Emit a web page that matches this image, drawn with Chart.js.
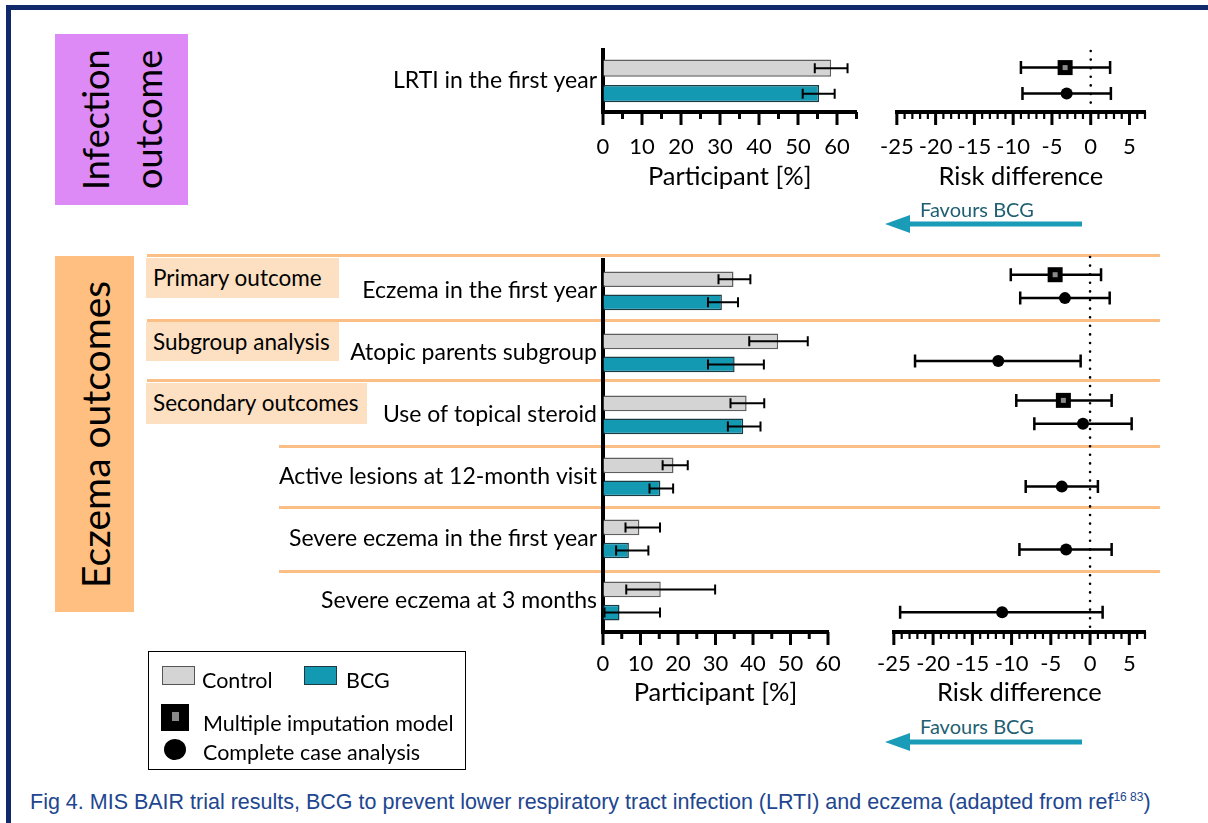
<!DOCTYPE html>
<html>
<head>
<meta charset="utf-8">
<title>MIS BAIR trial results</title>
<script src="https://cdn.jsdelivr.net/npm/chart.js@4.4.1/dist/chart.umd.min.js"></script>
<style>
  body { margin: 0; background: #fff; }
  #page { position: relative; width: 1208px; height: 823px; overflow: hidden; font-family: Lato, sans-serif; color: #000; }
  .abs { position: absolute; }
  canvas { position: absolute; }
  .frame { left: 6px; top: 5px; width: 1400px; height: 1000px; border-top: 5px solid #10296a; border-left: 5px solid #10296a; }
  .group-box { display: flex; align-items: center; justify-content: center; writing-mode: vertical-rl; transform: rotate(180deg); text-align: center; }
  .tag { background: #fde0c2; font-size: 22.5px; line-height: 40px; padding-left: 7px; box-sizing: border-box; white-space: nowrap; }
  .sep { height: 3px; background: #fbbf86; }
  .favours { font-size: 20px; color: #1f5f72; white-space: nowrap; }
  .legend { left: 148px; top: 651px; width: 318px; height: 119px; border: 1.5px solid #000; box-sizing: border-box; font-size: 21.5px; }
  .legend span { position: absolute; white-space: nowrap; line-height: 24px; }
  .sw { position: absolute; box-sizing: border-box; }
  .caption { left: 30px; top: 790px; font-family: "Liberation Sans", Arial, sans-serif; font-size: 21.5px; line-height: 24px; color: #21468f; white-space: nowrap; }
  .caption sup { font-size: 12px; vertical-align: 8px; line-height: 0; }
</style>
</head>
<body>
<div id="page">
  <div class="abs frame"></div>

  <div class="abs group-box" style="left:55px;top:34px;width:133px;height:171px;background:#dd89f6;font-size:36px;line-height:53px;">Infection<br>outcome</div>
  <div class="abs group-box" style="left:55px;top:256px;width:79px;height:356px;background:#ffbf80;font-size:39px;line-height:40px;">Eczema outcomes</div>

  <div class="abs sep" style="left:147px;top:254px;width:1013px;"></div>
  <div class="abs sep" style="left:147px;top:319px;width:1013px;"></div>
  <div class="abs sep" style="left:147px;top:379px;width:1013px;"></div>
  <div class="abs sep" style="left:279px;top:445px;width:881px;"></div>
  <div class="abs sep" style="left:279px;top:506px;width:881px;"></div>
  <div class="abs sep" style="left:279px;top:570px;width:881px;"></div>

  <div class="abs tag" style="left:146px;top:258px;width:193px;height:40px;">Primary outcome</div>
  <div class="abs tag" style="left:146px;top:322px;width:193px;height:39px;">Subgroup analysis</div>
  <div class="abs tag" style="left:146px;top:383px;width:221px;height:41px;">Secondary outcomes</div>

  <canvas id="topBar" width="600" height="175" style="left:260px;top:30px;"></canvas>
  <canvas id="topForest" width="300" height="175" style="left:870px;top:30px;"></canvas>
  <canvas id="ecBar" width="600" height="470" style="left:260px;top:240px;"></canvas>
  <canvas id="ecForest" width="300" height="470" style="left:870px;top:240px;"></canvas>

  <div class="abs favours" style="left:920px;top:197px;">Favours BCG</div>
  <svg class="abs" style="left:880px;top:212px;" width="210" height="26">
    <polygon points="5,12 30,3 30,21" fill="#1a9bb8"/>
    <rect x="29" y="9.5" width="173" height="5" fill="#1a9bb8"/>
  </svg>
  <div class="abs favours" style="left:920px;top:714px;">Favours BCG</div>
  <svg class="abs" style="left:880px;top:730px;" width="210" height="26">
    <polygon points="5,12 30,3 30,21" fill="#1a9bb8"/>
    <rect x="29" y="9.5" width="173" height="5" fill="#1a9bb8"/>
  </svg>

  <div class="abs legend">
    <div class="sw" style="left:13px;top:14px;width:33px;height:19px;background:#d4d4d4;border:1.5px solid #555;"></div>
    <span style="left:53px;top:16px;">Control</span>
    <div class="sw" style="left:155px;top:14px;width:33px;height:19px;background:#1499b3;border:1.5px solid #1d3a42;"></div>
    <span style="left:197px;top:16px;">BCG</span>
    <div class="sw" style="left:12px;top:52px;width:28px;height:27px;background:#000;"></div>
    <div class="sw" style="left:23px;top:60px;width:7px;height:9px;background:#888;"></div>
    <span style="left:54px;top:59px;">Multiple imputation model</span>
    <div class="sw" style="left:15px;top:87px;width:22px;height:21px;background:#000;border-radius:50%;"></div>
    <span style="left:54px;top:88px;">Complete case analysis</span>
  </div>

  <div class="abs caption">Fig 4. MIS BAIR trial results, BCG to prevent lower respiratory tract infection (LRTI) and eczema (adapted from ref<sup>16 83</sup>)</div>
</div>

<script>
// infection outcome
const lrtiCategories = ['LRTI in the first year'];
const lrtiControl = [58.5];
const lrtiControlLow = [54.3];
const lrtiControlHigh = [62.7];
const lrtiBcg = [55.4];
const lrtiBcgLow = [51.2];
const lrtiBcgHigh = [59.4];
const lrtiMiEst = [-3.3];
const lrtiMiLow = [-9.0];
const lrtiMiHigh = [2.5];
const lrtiCcEst = [-3.1];
const lrtiCcLow = [-8.8];
const lrtiCcHigh = [2.6];

// eczema outcomes
const eczemaCategories = [
    'Eczema in the first year',
    'Atopic parents subgroup',
    'Use of topical steroid',
    'Active lesions at 12-month visit',
    'Severe eczema in the first year',
    'Severe eczema at 3 months'
];
const controlPct = [34.8, 46.7, 38.3, 18.8, 9.7, 15.4];
const controlLow = [30.8, 39.0, 34.0, 15.9, 6.0, 6.2];
const controlHigh = [39.3, 54.6, 43.0, 22.6, 15.2, 29.9];
const bcgPct = [31.7, 35.1, 37.4, 15.3, 6.9, 4.4];
const bcgLow = [28.0, 28.0, 33.3, 12.4, 3.5, 0.4];
const bcgHigh = [36.0, 42.9, 42.0, 18.7, 12.1, 15.2];
const miEst = [-4.45, null, -3.4, null, null, null];
const miLow = [-10.1, null, -9.4, null, null, null];
const miHigh = [1.4, null, 2.75, null, null, null];
const ccEst = [-3.2, -11.7, -0.9, -3.6, -3.05, -11.2];
const ccLow = [-8.9, -22.3, -7.1, -8.2, -9.0, -24.2];
const ccHigh = [2.5, -1.2, 5.3, 1.0, 2.75, 1.6];

const barTicks = [0, 10, 20, 30, 40, 50, 60];
const riskTicks = [-25, -20, -15, -10, -5, 0, 5];

const FONT = 'Lato';

// whiskers + markers drawn on the bar elements
const errorBars = {
    id: 'errorBars',
    afterDatasetsDraw(chart, args, opts) {
        const ctx = chart.ctx;
        const xs = chart.scales.x;
        chart.data.datasets.forEach((ds, i) => {
            const meta = chart.getDatasetMeta(i);
            meta.data.forEach((bar, j) => {
                if (ds.low[j] == null) return;
                const x1 = xs.getPixelForValue(ds.low[j]);
                const x2 = xs.getPixelForValue(ds.high[j]);
                const y = bar.y;
                ctx.save();
                ctx.strokeStyle = '#000';
                ctx.lineWidth = opts.width;
                ctx.beginPath();
                ctx.moveTo(x1, y); ctx.lineTo(x2, y);
                ctx.moveTo(x1, y - opts.cap / 2); ctx.lineTo(x1, y + opts.cap / 2);
                ctx.moveTo(x2, y - opts.cap / 2); ctx.lineTo(x2, y + opts.cap / 2);
                ctx.stroke();
                if (ds.est) {
                    const x = xs.getPixelForValue(ds.est[j]);
                    ctx.fillStyle = '#000';
                    if (ds.marker === 'square') {
                        ctx.fillRect(x - 7.5, y - 7.5, 15, 15);
                        ctx.fillStyle = '#8a8a8a';
                        ctx.fillRect(x - 2.5, y - 2.5, 5, 5);
                    } else {
                        ctx.beginPath();
                        ctx.arc(x, y, 6, 0, Math.PI * 2);
                        ctx.fill();
                    }
                }
                ctx.restore();
            });
        });
    }
};

// major / minor tick marks under the x axis line
const tickMarks = {
    id: 'tickMarks',
    afterDraw(chart, args, opts) {
        const s = chart.scales.x;
        const ctx = chart.ctx;
        ctx.save();
        ctx.strokeStyle = '#000';
        for (let v = s.min; v <= s.max + 1e-9; v += opts.minor) {
            const major = Math.abs(v / opts.major - Math.round(v / opts.major)) < 1e-6;
            const x = s.getPixelForValue(v);
            ctx.lineWidth = major ? opts.majorWidth : opts.minorWidth;
            ctx.beginPath();
            ctx.moveTo(x, s.top);
            ctx.lineTo(x, s.top + (major ? opts.majorLen : opts.minorLen));
            ctx.stroke();
        }
        if (opts.zero) {
            const x0 = s.getPixelForValue(0);
            ctx.lineWidth = 2.6;
            ctx.lineCap = 'round';
            ctx.setLineDash([0, 8.6]);
            ctx.beginPath();
            ctx.moveTo(x0, chart.chartArea.top + 2);
            ctx.lineTo(x0, chart.chartArea.bottom);
            ctx.stroke();
        }
        ctx.restore();
    }
};

function xAxis(min, max, tickValues, title, axisHeight, labelPad, titlePad) {
    return {
        type: 'linear',
        min: min,
        max: max,
        afterBuildTicks: scale => { scale.ticks = tickValues.map(v => ({ value: v })); },
        afterFit: scale => { scale.height = axisHeight; },
        grid: { display: true, drawOnChartArea: false, drawTicks: true, tickLength: 12, color: 'transparent' },
        border: { display: true, color: '#000', width: 4 },
        ticks: { color: '#000', font: { family: FONT, size: 22 }, padding: labelPad, maxRotation: 0, autoSkip: false },
        title: { display: true, text: title, color: '#000', font: { family: FONT, size: 25.5 }, padding: { top: 0, bottom: titlePad } }
    };
}

function makeBarChart(id, labels, control, cLow, cHigh, bcg, bLow, bHigh, xMax, layout, axisHeight, labelPad, titlePad, catPct) {
    return new Chart(document.getElementById(id), {
        type: 'bar',
        data: {
            labels: labels,
            datasets: [
                { label: 'Control', data: control, low: cLow, high: cHigh, backgroundColor: '#d4d4d4', borderColor: '#5e5e5e', borderWidth: 1.5 },
                { label: 'BCG', data: bcg, low: bLow, high: bHigh, backgroundColor: '#1499b3', borderColor: '#1b3b43', borderWidth: 1.5 }
            ]
        },
        options: {
            indexAxis: 'y',
            responsive: false,
            animation: false,
            devicePixelRatio: 1,
            layout: { padding: layout },
            datasets: { bar: { categoryPercentage: catPct, barPercentage: 0.68 } },
            scales: {
                x: xAxis(0, xMax, barTicks, 'Participant [%]', axisHeight, labelPad, titlePad),
                y: {
                    afterFit: scale => { scale.width = 343; },
                    grid: { display: true, drawOnChartArea: false, drawTicks: false },
                    border: { display: true, color: '#000', width: 4 },
                    ticks: { color: '#000', font: { family: FONT, size: 23 }, padding: 6 }
                }
            },
            plugins: {
                legend: { display: false },
                tooltip: { enabled: false },
                errorBars: { width: 2, cap: 10 },
                tickMarks: { minor: 5, major: 10, minorLen: 7, majorLen: 13, minorWidth: 3, majorWidth: 3 }
            }
        },
        plugins: [errorBars, tickMarks]
    });
}

function makeForest(id, labels, mEst, mLow, mHigh, cEst, cLow, cHigh, layout, axisHeight, labelPad, titlePad, catPct) {
    return new Chart(document.getElementById(id), {
        type: 'bar',
        data: {
            labels: labels,
            datasets: [
                { label: 'Multiple imputation model', data: mEst, est: mEst, low: mLow, high: mHigh, marker: 'square', backgroundColor: 'transparent', borderWidth: 0 },
                { label: 'Complete case analysis', data: cEst, est: cEst, low: cLow, high: cHigh, marker: 'circle', backgroundColor: 'transparent', borderWidth: 0 }
            ]
        },
        options: {
            indexAxis: 'y',
            responsive: false,
            animation: false,
            devicePixelRatio: 1,
            layout: { padding: layout },
            datasets: { bar: { categoryPercentage: catPct, barPercentage: 0.68 } },
            scales: {
                x: xAxis(-25, 7, riskTicks, 'Risk difference', axisHeight, labelPad, titlePad),
                y: { display: false }
            },
            plugins: {
                legend: { display: false },
                tooltip: { enabled: false },
                errorBars: { width: 2.5, cap: 13 },
                tickMarks: { minor: 1, major: 5, minorLen: 7, majorLen: 13, minorWidth: 2.2, majorWidth: 3, zero: true }
            }
        },
        plugins: [errorBars, tickMarks]
    });
}

document.fonts.load('22px Lato').then(() => {
    makeBarChart('topBar', lrtiCategories, lrtiControl, lrtiControlLow, lrtiControlHigh,
        lrtiBcg, lrtiBcgLow, lrtiBcgHigh, 65, { top: 19, right: 3, left: 0, bottom: 0 }, 93, 10, 13, 0.82);
    makeForest('topForest', lrtiCategories, lrtiMiEst, lrtiMiLow, lrtiMiHigh,
        lrtiCcEst, lrtiCcLow, lrtiCcHigh, { top: 19, right: 25, left: 17, bottom: 0 }, 93, 10, 13, 0.82);
    makeBarChart('ecBar', eczemaCategories, controlPct, controlLow, controlHigh,
        bcgPct, bcgLow, bcgHigh, 60, { top: 15, right: 32, left: 0, bottom: 0 }, 78, 7, 2, 0.745);
    makeForest('ecForest', eczemaCategories, miEst, miLow, miHigh,
        ccEst, ccLow, ccHigh, { top: 15, right: 25, left: 17, bottom: 0 }, 78, 7, 2, 0.745);
});
</script>
</body>
</html>
